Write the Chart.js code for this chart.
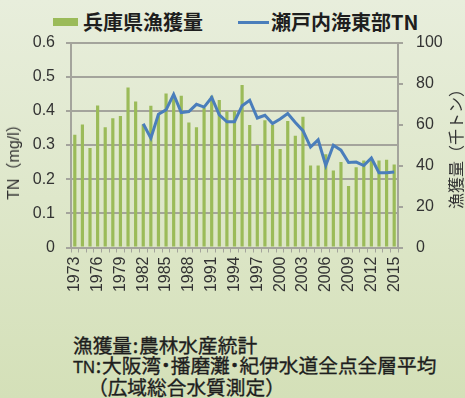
<!DOCTYPE html>
<html>
<head>
<meta charset="utf-8">
<script src="https://cdn.jsdelivr.net/npm/chart.js@4.4.1/dist/chart.umd.min.js"></script>
<style>
html, body { margin: 0; padding: 0; }
body {
    width: 465px; height: 398px; position: relative; overflow: hidden;
    background: linear-gradient(#e8eedc, #d4e0b8);
    font-family: "Noto Sans CJK JP", sans-serif; color: #222;
}
#grafico { position: absolute; left: 0; top: 0; }
.legenda { position: absolute; top: 9px; font-size: 20px; font-weight: bold; line-height: 26px; color: #1e1e1e; white-space: nowrap; }
.caixa { position: absolute; left: 53px; top: 18px; width: 25px; height: 8px; background: #9bbb59; }
.traco { position: absolute; left: 238px; top: 21px; width: 31px; height: 3px; background: #4a7ebb; }
.titulo { position: absolute; font-size: 16px; color: #333; white-space: nowrap; transform: translate(-50%, -50%) rotate(-90deg); }
#notas { position: absolute; left: 73px; top: 335px; font-size: 19.7px; font-weight: 400; -webkit-text-stroke: 0.35px #1e1e1e; line-height: 20px; color: #1e1e1e; white-space: nowrap; }
#notas .pre { display: inline-block; }
#notas .ponto { margin: 0 -5px; }
#notas .tn { font-family: "Liberation Sans", Arial, sans-serif; font-size: 16.5px; }
</style>
</head>
<body>
<div class="caixa"></div>
<div class="legenda" style="left:83px">兵庫県漁獲量</div>
<div class="traco"></div>
<div class="legenda" style="left:271px">瀬戸内海東部TN</div>

<canvas id="grafico" width="465" height="300"></canvas>

<div class="titulo" style="left:12px; top:158px; font-family:'Liberation Sans','Noto Sans CJK JP',sans-serif;">TN（mg/l）</div>
<div class="titulo" style="left:455px; top:145px;">漁獲量（千トン）</div>

<div id="notas">
    <div><span class="pre" style="width:66px">漁獲量<span style="display:inline-block;width:7px;text-align:center">:</span></span>農林水産統計</div>
    <div><span class="pre" style="width:29px"><span class="tn">TN</span><span style="display:inline-block;width:7px;text-align:center">:</span></span>大阪湾<span class="ponto">・</span>播磨灘<span class="ponto">・</span>紀伊水道全点全層平均</div>
    <div style="margin-left:15px">（広域総合水質測定）</div>
</div>

<script>
// anos 1973 - 2015
const anos = [
    "1973","1974","1975","1976","1977","1978","1979","1980","1981","1982",
    "1983","1984","1985","1986","1987","1988","1989","1990","1991","1992",
    "1993","1994","1995","1996","1997","1998","1999","2000","2001","2002",
    "2003","2004","2005","2006","2007","2008","2009","2010","2011","2012",
    "2013","2014","2015"
];

// 兵庫県漁獲量 (千トン)
const capturas = [
    55.0, 60.0, 48.5, 69.3, 58.7, 63.0, 64.2, 78.0, 71.2, 60.0,
    69.1, 65.0, 75.1, 74.0, 74.0, 61.0, 58.6, 68.0, 74.0, 72.0,
    66.5, 66.7, 79.3, 59.7, 50.0, 62.1, 59.7, 48.1, 61.7, 54.5,
    63.8, 40.0, 40.0, 45.5, 37.6, 41.7, 30.0, 39.2, 42.5, 43.0,
    42.5, 42.8, 40.5
];

// 瀬戸内海東部TN (mg/l), sem dados antes de 1982
const tn = [
    null, null, null, null, null, null, null, null, null, 0.362,
    0.320, 0.390, 0.403, 0.448, 0.395, 0.398, 0.419, 0.411, 0.439, 0.388,
    0.368, 0.368, 0.415, 0.431, 0.379, 0.387, 0.363, 0.376, 0.392, 0.366,
    0.342, 0.294, 0.315, 0.240, 0.299, 0.285, 0.249, 0.250, 0.240, 0.262,
    0.219, 0.219, 0.221
];

const corGrade = "#a4a49c";
const fonteEixo = { family: "'Liberation Sans', Arial, sans-serif", size: 16 };

new Chart(document.getElementById("grafico"), {
    type: "bar",
    data: {
        labels: anos,
        datasets: [
            {
                type: "line",
                data: tn,
                yAxisID: "y",
                borderColor: "#4a7ebb",
                borderWidth: 3,
                pointRadius: 0,
                tension: 0,
                order: 0
            },
            {
                data: capturas,
                yAxisID: "y1",
                backgroundColor: "#9bbb59",
                barPercentage: 0.42,
                categoryPercentage: 1,
                order: 1
            }
        ]
    },
    options: {
        responsive: false,
        devicePixelRatio: 1,
        animation: false,
        layout: { padding: { top: 42.5, left: 0, right: 0, bottom: 0 } },
        plugins: { legend: { display: false }, tooltip: { enabled: false } },
        scales: {
            x: {
                afterFit: (s) => { s.height = 52.5; },
                grid: { display: true, drawOnChartArea: false, tickLength: 5, color: corGrade, lineWidth: 1 },
                border: { color: corGrade, width: 2 },
                ticks: {
                    autoSkip: false, minRotation: 90, maxRotation: 90, padding: 4,
                    color: "#333", font: fonteEixo,
                    callback: function (v, i) { return i % 3 === 0 ? this.getLabelForValue(v) : ""; }
                }
            },
            y: {
                position: "left",
                min: 0, max: 0.6,
                afterFit: (s) => { s.width = 71; },
                grid: { color: corGrade, lineWidth: 2, tickLength: 5 },
                border: { color: corGrade, width: 2 },
                ticks: { stepSize: 0.1, padding: 11, color: "#333", font: fonteEixo }
            },
            y1: {
                position: "right",
                min: 0, max: 100,
                afterFit: (s) => { s.width = 67; },
                grid: { drawOnChartArea: false, color: corGrade, lineWidth: 2, tickLength: 5 },
                border: { color: corGrade, width: 2 },
                ticks: { stepSize: 20, padding: 13, color: "#333", font: fonteEixo }
            }
        }
    }
});
</script>
</body>
</html>
